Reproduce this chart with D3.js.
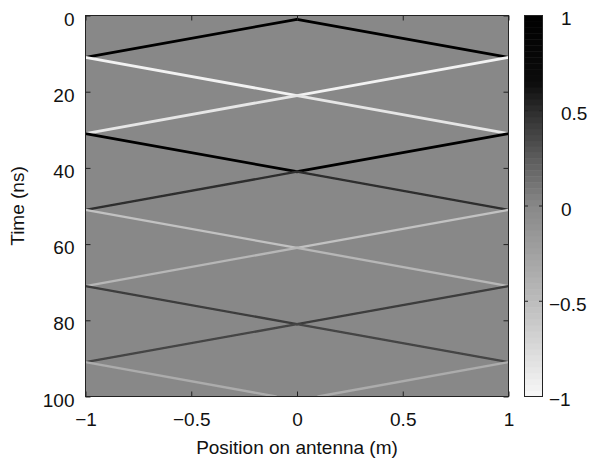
<!DOCTYPE html>
<html>
<head>
<meta charset="utf-8">
<script src="https://cdn.jsdelivr.net/npm/d3@7"></script>
<style>
  body { margin: 0; background: #fff; }
  svg { display: block; font-family: "Liberation Sans", Arial, sans-serif; }
</style>
</head>
<body>
<svg id="chart" width="590" height="460"></svg>
<script>
// pulse bounces: time (ns) and |position| (m) where each leg starts/ends
const bounceTime = [1, 11, 21, 31, 41, 51, 61, 71, 81, 91, 100];
const bouncePos  = [0, 1, 0, 1, 0, 1, 0, 1, 0, 1, 0.1];
// amplitude of each leg between two bounces
const legAmp = [1, -0.95, -0.85, 0.9, 0.5, -0.55, -0.45, 0.42, 0.38, -0.35];

const xTicks = [-1, -0.5, 0, 0.5, 1];
const yTicks = [0, 20, 40, 60, 80, 100];
const cbTicks = [1, 0.5, 0, -0.5, -1];

// colormap (value -> gray level)
const cmapVal  = [-1, -0.5, 0, 0.25, 0.5, 0.65, 1];
const cmapGray = [248, 188, 136, 92, 45, 12, 0];

const svg = d3.select("#chart");
const pLeft = 85.5, pRight = 508.5, pTop = 15.5, pBottom = 396.5;
const fs = 19;

let x = d3.scaleLinear().domain([-1, 1]).range([pLeft, pRight]);
let y = d3.scaleLinear().domain([0, 100]).range([pTop, pBottom]);
let gray = d3.scaleLinear().domain(cmapVal).range(cmapGray).clamp(true);
let color = v => { let g = Math.round(gray(v)); return d3.rgb(g, g, g).toString(); };

let defs = svg.append("defs");
defs.append("clipPath").attr("id", "plotClip")
  .append("rect").attr("x", pLeft).attr("y", pTop)
  .attr("width", pRight - pLeft).attr("height", pBottom - pTop);
defs.append("filter").attr("id", "soft")
  .append("feGaussianBlur").attr("stdDeviation", 0.6);

// zero background
svg.append("rect")
  .attr("x", pLeft).attr("y", pTop)
  .attr("width", pRight - pLeft).attr("height", pBottom - pTop)
  .attr("fill", color(0));

// legs of the pulse, mirrored on both sides of the antenna centre
let legs = [];
legAmp.forEach((a, i) => {
  [-1, 1].forEach(s => {
    legs.push({
      x0: s * bouncePos[i], t0: bounceTime[i],
      x1: s * bouncePos[i + 1], t1: bounceTime[i + 1],
      amp: a
    });
  });
});

let g = svg.append("g").attr("clip-path", "url(#plotClip)")
  .append("g").attr("filter", "url(#soft)");

g.selectAll("line.leg")
  .data(legs)
  .enter()
  .append("line")
  .attr("class", "leg")
  .attr("x1", d => x(d.x0))
  .attr("y1", d => y(d.t0))
  .attr("x2", d => x(d.x1))
  .attr("y2", d => y(d.t1))
  .attr("stroke", d => color(d.amp))
  .attr("stroke-width", d => Math.abs(d.amp) > 0.8 ? 2.8 : 2.3)
  .attr("stroke-linecap", "round");

// axes with inward ticks
let fmt = d3.format("");
let axisStyle = sel => {
  sel.select(".domain").remove();
  sel.selectAll(".tick line").attr("stroke", "#222");
  sel.selectAll("text").attr("font-size", fs).attr("fill", "#111")
    .attr("font-family", "Liberation Sans, Arial, sans-serif");
};

svg.append("g").attr("transform", `translate(0,${pBottom})`)
  .call(d3.axisBottom(x).tickValues(xTicks).tickFormat(fmt).tickSize(-5).tickPadding(16))
  .call(axisStyle);
svg.append("g").attr("transform", `translate(0,${pTop})`)
  .call(d3.axisTop(x).tickValues(xTicks).tickFormat("").tickSize(-5))
  .call(axisStyle);
svg.append("g").attr("transform", `translate(${pLeft},0)`)
  .call(d3.axisLeft(y).tickValues(yTicks).tickFormat(fmt).tickSize(-5).tickPadding(11))
  .call(axisStyle)
  .selectAll("text").attr("dy", "0.5em");
svg.append("g").attr("transform", `translate(${pRight},0)`)
  .call(d3.axisRight(y).tickValues(yTicks).tickFormat("").tickSize(-5))
  .call(axisStyle);

svg.append("rect")
  .attr("x", pLeft).attr("y", pTop)
  .attr("width", pRight - pLeft).attr("height", pBottom - pTop)
  .attr("fill", "none").attr("stroke", "#222").attr("stroke-width", 1);

svg.append("text")
  .attr("x", (pLeft + pRight) / 2).attr("y", 454)
  .attr("text-anchor", "middle").attr("font-size", fs).attr("fill", "#111")
  .text("Position on antenna (m)");
svg.append("text")
  .attr("transform", `translate(24,${(pTop + pBottom) / 2}) rotate(-90)`)
  .attr("text-anchor", "middle").attr("font-size", fs).attr("fill", "#111")
  .text("Time (ns)");

// colorbar
const cbLeft = 524.5, cbRight = 542.5;
let cy = d3.scaleLinear().domain([-1, 1]).range([pBottom, pTop]);
let nBands = 64;
let bands = d3.range(nBands).map(i => -1 + 2 * i / nBands);
svg.append("g").selectAll("rect")
  .data(bands)
  .enter()
  .append("rect")
  .attr("x", cbLeft)
  .attr("y", d => cy(d + 2 / nBands))
  .attr("width", cbRight - cbLeft)
  .attr("height", d => cy(d) - cy(d + 2 / nBands) + 0.5)
  .attr("fill", d => color(d + 1 / nBands));

let cbTickG = svg.append("g");
cbTickG.selectAll("line.l")
  .data(cbTicks).enter().append("line")
  .attr("class", "l")
  .attr("x1", cbLeft).attr("x2", cbLeft + 3.5)
  .attr("y1", d => cy(d)).attr("y2", d => cy(d))
  .attr("stroke", "#222");
cbTickG.selectAll("line.r")
  .data(cbTicks).enter().append("line")
  .attr("class", "r")
  .attr("x1", cbRight - 3.5).attr("x2", cbRight)
  .attr("y1", d => cy(d)).attr("y2", d => cy(d))
  .attr("stroke", "#222");
cbTickG.selectAll("text")
  .data(cbTicks).enter().append("text")
  .attr("x", d => d < 0 ? 549 : 561)
  .attr("y", d => cy(d))
  .attr("dy", "0.5em")
  .attr("font-size", fs).attr("fill", "#111")
  .text(d => fmt(d));

svg.append("rect")
  .attr("x", cbLeft).attr("y", pTop)
  .attr("width", cbRight - cbLeft).attr("height", pBottom - pTop)
  .attr("fill", "none").attr("stroke", "#222").attr("stroke-width", 1);
</script>
</body>
</html>
